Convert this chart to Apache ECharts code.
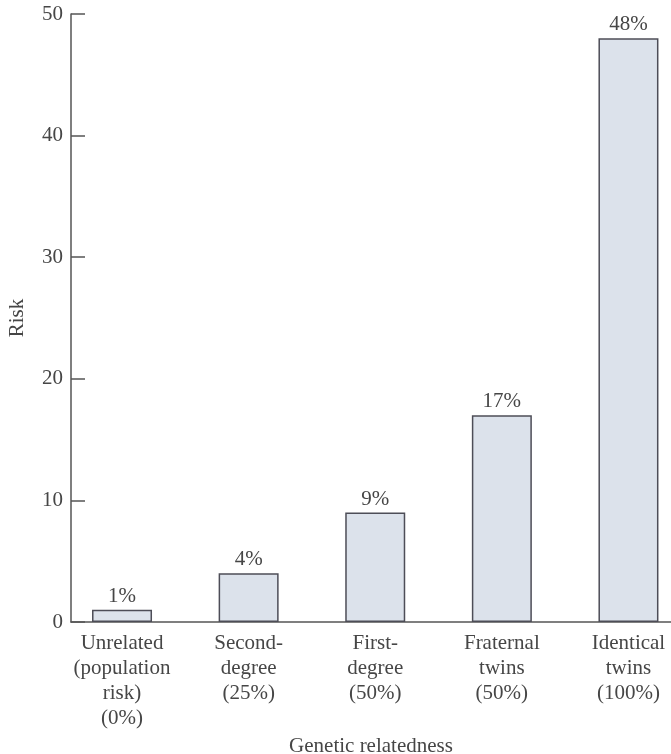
<!DOCTYPE html>
<html>
<head>
<meta charset="utf-8">
<script src="https://cdn.jsdelivr.net/npm/echarts@6/dist/echarts.min.js"></script>
<style>
  html, body { margin: 0; padding: 0; background: #fff; }
  #chart { width: 671px; height: 754px; }
</style>
</head>
<body>
<div id="chart"></div>
<script>
// Risk by degree of genetic relatedness
const categories = [
  'Unrelated\n(population\nrisk)\n(0%)',
  'Second-\ndegree\n(25%)',
  'First-\ndegree\n(50%)',
  'Fraternal\ntwins\n(50%)',
  'Identical\ntwins\n(100%)'
];
const riskValues = [1, 4, 9, 17, 48];
const yTicks = [0, 10, 20, 30, 40, 50];

const serif = '"Liberation Serif", "DejaVu Serif", serif';
const ink = '#464646';

const chart = echarts.init(document.getElementById('chart'), null, { renderer: 'canvas' });

chart.setOption({
  animation: false,
  backgroundColor: '#ffffff',
  grid: { left: 71, right: 0, top: 14, bottom: 132, containLabel: false, outerBoundsMode: 'none' },
  xAxis: {
    type: 'value',
    min: -0.403,
    max: 4.336,
    name: 'Genetic relatedness',
    nameLocation: 'middle',
    nameGap: 114,
    nameTextStyle: { fontFamily: serif, fontSize: 21, color: ink },
    axisLine: { show: true, onZero: false, lineStyle: { color: '#555', width: 1.5 } },
    axisTick: { show: false },
    splitLine: { show: false },
    axisLabel: {
      customValues: categories.map((_, i) => i),
      formatter: v => categories[Math.round(v)],
      fontFamily: serif,
      fontSize: 21,
      lineHeight: 25,
      color: ink,
      margin: 9,
      align: 'center'
    }
  },
  yAxis: {
    type: 'value',
    min: 0,
    max: 50,
    interval: 10,
    name: 'Risk',
    nameLocation: 'middle',
    nameGap: 43,
    nameTextStyle: { fontFamily: serif, fontSize: 21, color: ink },
    axisLine: { show: true, onZero: false, lineStyle: { color: '#555', width: 1.5 } },
    axisTick: { show: true, inside: true, length: 14, lineStyle: { color: '#555', width: 1.5 } },
    splitLine: { show: false },
    axisLabel: {
      customValues: yTicks,
      fontFamily: serif,
      fontSize: 21,
      color: ink,
      margin: 8
    }
  },
  series: [{
    type: 'bar',
    data: riskValues.map((v, i) => [i, v]),
    barWidth: 60,
    itemStyle: {
      color: '#dce2eb',
      borderColor: '#4d4d57',
      borderWidth: 1.5
    },
    label: {
      show: true,
      position: 'top',
      distance: 3,
      formatter: p => p.value[1] + '%',
      fontFamily: serif,
      fontSize: 21,
      color: ink
    }
  }]
});
</script>
</body>
</html>
